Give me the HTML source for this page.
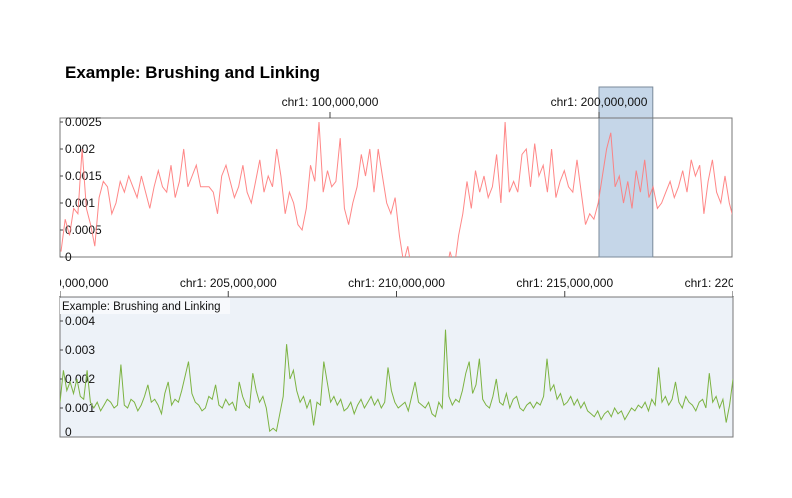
<!DOCTYPE html>
<html><head><meta charset="utf-8"><style>
html,body{margin:0;padding:0;background:#fff;}
svg{display:block;font-family:"Liberation Sans",Arial,sans-serif;}
</style></head><body>
<svg id="chart" width="792" height="498" viewBox="0 0 792 498">
<text x="65" y="78" font-size="17" font-weight="bold" fill="#000">Example: Brushing and Linking</text>
<defs>
<clipPath id="clipTop"><rect x="60" y="118" width="672" height="139"/></clipPath>
<clipPath id="clipBot"><rect x="60" y="297" width="673" height="140"/></clipPath>
</defs>
<g id="top"></g>
<g id="bot"></g>
</svg>
<script>
// Overview track: values in units of 1e-4, covering chr1 0..250M
const topValues=[1,7,4,9,8,20,9,6,2,
11,14,13,8,10,14,12,15,13,11,15,
12,9,13,16,13,12,17,11,14,20,13,15,17,13,
13,13,12,8,15,17,14,11,13,17,12,
10,14,18,12,15,13,20,15,
8,12,10,6,5,
9,17,14,25,12,
16,13,14,22,9,
6,10,13,19,15,20,
12,20,15,10,8,11,
4,-1,2,-3,-3,-3,-3,-3,-3,-3,-3,-3,1,-2,
4,8,14,9,16,
12,15,11,13,19,10,25,12,
14,12,19,20,13,21,15,17,12,20,
11,14,16,13,12,18,12,
6,8,7,10,15,20,23,
13,15,10,14,9,16,12,18,11,13,9,10,12,
14,11,13,16,12,18,15,17,8,14,18,12,10,15,10,7];
const topTickValues=[0,5,10,15,20,25];
const topTickLabels=["0","0.0005","0.001","0.0015","0.002","0.0025"];
const topXTicks=[100,200];
const topXLabels=["chr1: 100,000,000","chr1: 200,000,000"];
const brushRange=[200,220];
// Detail track: values in units of 1e-4, covering chr1 200M..220M
const botValues=[12,23,16,19,15,20,14,13,23,12,
10,12,9,11,13,12,10,11,25,11,
10,13,12,9,11,14,18,12,13,11,
8,15,19,11,13,12,16,21,26,15,
12,11,9,10,14,13,18,11,10,13,
11,12,9,19,14,11,10,22,16,12,
14,10,2,3,2,8,14,32,20,23,
16,12,14,10,13,4,12,11,26,19,
12,14,11,13,9,10,12,8,11,13,
10,12,14,11,13,10,12,24,16,12,
10,11,12,9,14,19,12,11,10,12,
8,7,12,10,37,14,11,13,12,16,
22,26,15,18,27,13,11,10,14,20,
12,11,15,10,13,14,10,9,11,12,
10,12,11,14,27,16,18,13,15,11,
12,14,11,13,10,12,9,8,7,9,
6,8,9,7,10,8,9,6,8,10,
9,11,10,12,9,13,11,24,12,14,
11,13,19,12,10,14,12,11,9,12,
13,10,22,12,14,10,13,5,11,20];
const botTickValues=[0,10,20,30,40];
const botTickLabels=["0","0.001","0.002","0.003","0.004"];
const botXTicks=[200,205,210,215,220];
const botXLabels=["chr1: 200,000,000","chr1: 205,000,000","chr1: 210,000,000","chr1: 215,000,000","chr1: 220,000,000"];

const NS="http://www.w3.org/2000/svg";
function mk(tag,attrs,parent,text){const e=document.createElementNS(NS,tag);for(const k in attrs)e.setAttribute(k,attrs[k]);if(text!==undefined)e.textContent=text;parent.appendChild(e);return e;}
const topG=document.getElementById('top'),botG=document.getElementById('bot');

// scales
const txScale=v=>61+v*2.69;
const tyScale=v=>257-v*5.4;
const bxScale=v=>60+(v-200)/20*673;
const byScale=v=>437-v*2.9;

// ----- top -----
let r=mk('rect',{x:60,y:118,width:672,height:139,fill:'#fff',stroke:'#777','stroke-width':1},topG);


let bx0=txScale(brushRange[0]),bx1=txScale(brushRange[1]);
let br=mk('rect',{x:bx0,y:87,width:bx1-bx0,height:170,fill:'#c5d6e8',stroke:'#7a8a9a','stroke-width':1},topG);


mk('line',{x1:60,y1:118,x2:732,y2:118,stroke:'#777'},topG);
topXTicks.forEach((t,i)=>{
  const x=txScale(t);
  const tk=mk('line',{x1:x,y1:112,x2:x,y2:118,stroke:'#444'},topG);
  
  
  const lb=mk('text',{x:x,y:106,'font-size':12,'text-anchor':'middle',fill:'#111'},topG,topXLabels[i]);
  
  
});
topTickValues.forEach((t,i)=>{
  const y=tyScale(t);
  mk('line',{x1:60,y1:y,x2:63,y2:y,stroke:'#444'},topG);
  const lb=mk('text',{x:65,y:y+4,'font-size':12,fill:'#111'},topG,topTickLabels[i]);
  
  
});
let d='';
topValues.forEach((v,i)=>{const x=txScale(i*250/(topValues.length-1));d+=(i?'L':'M')+x.toFixed(1)+','+tyScale(v).toFixed(1);});
let tl=mk('path',{d:d,fill:'none',stroke:'#ff7a7a','stroke-width':1,'clip-path':'url(#clipTop)','stroke-opacity':0.9},topG);



// ----- bottom -----
let r2=mk('rect',{x:60,y:297,width:673,height:140,fill:'#edf2f8',stroke:'#777','stroke-width':1},botG);


botXTicks.forEach((t,i)=>{
  const x=bxScale(t);
  const tk=mk('line',{x1:x,y1:291,x2:x,y2:297,stroke:'#444'},botG);
  
  
  const lb=mk('text',{x:x,y:287,'font-size':12,'text-anchor':'middle',fill:'#111'},botG,botXLabels[i]);
  
  
});
let cov=mk('rect',{x:0,y:270,width:60,height:26,fill:'#fff'},botG);
let cov2=mk('rect',{x:733,y:270,width:59,height:26,fill:'#fff'},botG);
let lbBg=mk('rect',{x:60,y:298,width:170,height:16,fill:'#f7f9fc'},botG);
let tlab=mk('text',{x:62,y:310,'font-size':11.5,fill:'#111'},botG,'Example: Brushing and Linking');


botTickValues.forEach((t,i)=>{
  const y=byScale(t);
  if(t>0)mk('line',{x1:60,y1:y,x2:63,y2:y,stroke:'#444'},botG);
  const lb=mk('text',{x:65,y:(t===0?y-1:y+4),'font-size':12,fill:'#111'},botG,botTickLabels[i]);
  
  
});
d='';
botValues.forEach((v,i)=>{const x=bxScale(200+i*20/(botValues.length-1));d+=(i?'L':'M')+x.toFixed(1)+','+byScale(v).toFixed(1);});
let bl=mk('path',{d:d,fill:'none',stroke:'#7cb342','stroke-width':1,'clip-path':'url(#clipBot)'},botG);


</script>
</body></html>
